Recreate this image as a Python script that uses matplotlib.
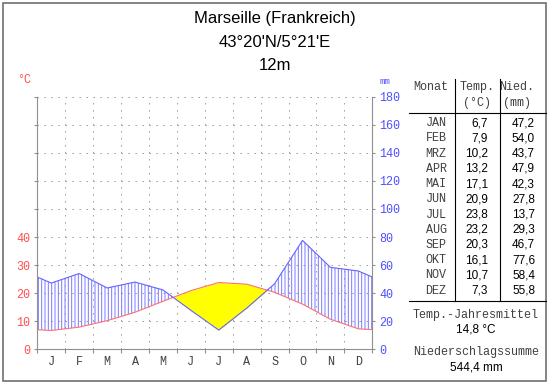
import numpy as np
import matplotlib
matplotlib.use('Agg')
import matplotlib.pyplot as plt
from matplotlib.lines import Line2D
from matplotlib.patches import Rectangle

# data (Marseille climate table)
months = ['J', 'F', 'M', 'A', 'M', 'J', 'J', 'A', 'S', 'O', 'N', 'D']
month_names = ['JAN', 'FEB', 'MRZ', 'APR', 'MAI', 'JUN', 'JUL', 'AUG', 'SEP', 'OKT', 'NOV', 'DEZ']
temp = [6.7, 7.9, 10.2, 13.2, 17.1, 20.9, 23.8, 23.2, 20.3, 16.1, 10.7, 7.3]
prec = [47.2, 54.0, 43.7, 47.9, 42.3, 27.8, 13.7, 29.3, 46.7, 77.6, 58.4, 55.8]
title_lines = ['Marseille (Frankreich)', "43°20'N/5°21'E", '12m']
temp_ticks = [0, 10, 20, 30, 40]
prec_ticks = [0, 20, 40, 60, 80, 100, 120, 140, 160, 180]
mean_temp = '14,8 °C'
prec_sum = '544,4 mm'

W, H = 550, 384
MONO = 'Liberation Mono'
SANS = 'Liberation Sans'
RED = '#ff5050'
BLUE = '#5050ff'
GRID = '#999999'

def fx(x):
    return x / W

def fy(y):
    return 1 - y / H

fig = plt.figure(figsize=(W / 100, H / 100), dpi=100)
fig.patch.set_facecolor('white')
ax = fig.add_axes([fx(37.3), fy(349.3), (372.3 - 37.3) / W, (349.3 - 96.7) / H])

# wrap the year round so the curves reach the axis edges
x = np.arange(-0.5, 13.0, 1.0)
t2 = 2 * np.array([temp[-1]] + temp + [temp[0]])
p = np.array([prec[-1]] + prec + [prec[0]])

plt.rcParams['hatch.linewidth'] = 0.7
ax.fill_between(x, p, t2, where=p >= t2, interpolate=True, facecolor='none',
                edgecolor='#7878ff', hatch='|||||', linewidth=0)
ax.fill_between(x, p, t2, where=p < t2, interpolate=True, color='#ffff00', linewidth=0)
ax.plot(x, t2, color='#ff7070', lw=0.8)
ax.plot(x, p, color='#6464ff', lw=0.8)

for yv in prec_ticks[1:]:
    ax.axhline(yv, color=GRID, ls=(0, (1.4, 5.6)), lw=0.72, zorder=0)
for xv in range(1, 12):
    ax.axvline(xv, color=GRID, ls=(0, (1.4, 5.6)), lw=0.72, zorder=0)

ax.set_xlim(0, 12)
ax.set_ylim(0, 180)
for s in ['left', 'right', 'bottom']:
    ax.spines[s].set_color('#909090')
    ax.spines[s].set_linewidth(0.8)
ax.spines['top'].set_visible(False)

ax.set_xticks(range(13))
ax.set_xticklabels([])
ax.set_xticks(np.arange(0.5, 12, 1.0), minor=True)
ax.set_xticklabels(months, minor=True, family=MONO, fontsize=8.5, color='#404040')
ax.tick_params(axis='x', which='major', length=3, color='#909090', width=0.8)
ax.tick_params(axis='x', which='minor', length=0, pad=5)

ax.set_yticks(prec_ticks)
ax.set_yticklabels([str(t) for t in temp_ticks] + [''] * (len(prec_ticks) - len(temp_ticks)),
                   family=MONO, fontsize=8.5, color=RED)
ax.tick_params(axis='y', length=2, color='#909090', width=0.8, pad=3)

ax2 = ax.twinx()
ax2.set_ylim(0, 180)
ax2.set_yticks(prec_ticks)
ax2.set_yticklabels([str(v) for v in prec_ticks], family=MONO, fontsize=8.5, color=BLUE)
ax2.tick_params(axis='y', length=2, color='#909090', width=0.8, pad=3)
for s in ax2.spines.values():
    s.set_visible(False)

fig.text(fx(24), fy(80), '°C', family=MONO, fontsize=8.5, color=RED, ha='center', va='center')
fig.text(fx(385), fy(81), 'mm', family=MONO, fontsize=6.5, color=BLUE, ha='center', va='center')

for i, line in enumerate(title_lines):
    fig.text(0.5, fy(19 + i * 23.5), line, family=SANS, fontsize=12, ha='center', va='center')

# table
fig.text(fx(431), fy(87), 'Monat', family=MONO, fontsize=8.5, color='#404040', ha='center', va='center')
fig.text(fx(477), fy(87), 'Temp.', family=MONO, fontsize=8.5, color='#404040', ha='center', va='center')
fig.text(fx(477), fy(103), '(°C)', family=MONO, fontsize=8.5, color='#404040', ha='center', va='center')
fig.text(fx(517), fy(87), 'Nied.', family=MONO, fontsize=8.5, color='#404040', ha='center', va='center')
fig.text(fx(517), fy(103), '(mm)', family=MONO, fontsize=8.5, color='#404040', ha='center', va='center')

for xl in [455, 500]:
    fig.add_artist(Line2D([fx(xl), fx(xl)], [fy(79), fy(301)], color='black', lw=0.8))
for yl in [113, 301]:
    fig.add_artist(Line2D([fx(409), fx(546)], [fy(yl), fy(yl)], color='black', lw=0.8))

for i in range(12):
    yy = fy(123.3 + i * 15.2)
    fig.text(fx(436), yy, month_names[i], family=MONO, fontsize=8.5, color='#404040', ha='center', va='center')
    fig.text(fx(488), yy, ('%.1f' % temp[i]).replace('.', ','), family=SANS, fontsize=8.5,
             ha='right', va='center')
    fig.text(fx(535), yy, ('%.1f' % prec[i]).replace('.', ','), family=SANS, fontsize=8.5,
             ha='right', va='center')

fig.text(fx(476), fy(315), 'Temp.-Jahresmittel', family=MONO, fontsize=8.5, color='#404040', ha='center', va='center')
fig.text(fx(476), fy(330), mean_temp, family=SANS, fontsize=8.5, ha='center', va='center')
fig.text(fx(476), fy(352), 'Niederschlagssumme', family=MONO, fontsize=8.5, color='#404040', ha='center', va='center')
fig.text(fx(476), fy(367), prec_sum, family=SANS, fontsize=8.5, ha='center', va='center')

# outer frame
fig.add_artist(Rectangle((fx(3), fy(381)), (546 - 3) / W, (381 - 3) / H, transform=fig.transFigure,
                         fill=False, edgecolor='#707070', lw=1.2))

fig.savefig('out.png', dpi=100)
